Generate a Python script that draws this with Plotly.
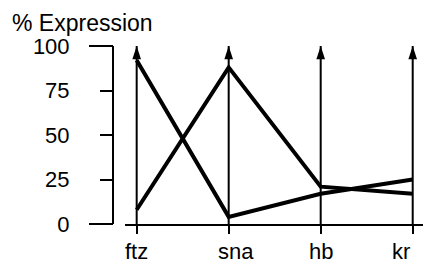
import plotly.graph_objects as go

# ---- data ----
genes = ["ftz", "sna", "hb", "kr"]
series_a = [92, 4, 17, 25]
series_b = [8, 88, 21, 17]
y_ticks = [0, 25, 50, 75, 100]
y_long_ticks = [0, 100]
y_top = 100
title_text = "% Expression"

# ---- style ----
W, H = 423, 262
FONT = "Liberation Sans, Arial, Helvetica, sans-serif"
label_xshift = [0, 7, 0, -12]

idx = list(range(len(genes)))
fig = go.Figure()

# vertical gene axes (arrows)
vx, vy = [], []
for i in idx:
    vx += [i, i, None]
    vy += [0, y_top, None]
fig.add_trace(go.Scatter(x=vx, y=vy, mode="lines",
                         line=dict(color="black", width=2),
                         hoverinfo="skip", showlegend=False))
fig.add_trace(go.Scatter(x=idx, y=[y_top] * len(idx), mode="markers",
                         marker=dict(symbol="arrow", size=14, color="black",
                                     line=dict(width=0)),
                         cliponaxis=False, hoverinfo="skip", showlegend=False))

# expression profiles
for s in (series_a, series_b):
    fig.add_trace(go.Scatter(x=idx, y=s, mode="lines",
                             line=dict(color="black", width=4),
                             hoverinfo="skip", showlegend=False))

annotations = [dict(text=title_text, xref="paper", yref="paper",
                    x=10 / W, y=1.132, xanchor="left", yanchor="middle",
                    showarrow=False, font=dict(family=FONT, size=23, color="black"))]
for i, g in enumerate(genes):
    annotations.append(dict(text=g, x=i, y=0, xref="x", yref="y",
                            xanchor="center", yanchor="middle",
                            xshift=label_xshift[i], yshift=-27,
                            showarrow=False,
                            font=dict(family=FONT, size=22, color="black")))

fig.update_layout(
    width=W, height=H,
    margin=dict(l=0, r=0, t=46, b=38, autoexpand=False),
    paper_bgcolor="white", plot_bgcolor="white",
    showlegend=False,
    annotations=annotations,
    xaxis=dict(domain=[125 / W, 1], range=[-0.127, 3.112], automargin=False,
               tickvals=idx, showticklabels=False,
               ticks="outside", ticklen=8, tickwidth=2, tickcolor="black",
               showline=True, linewidth=2, linecolor="black",
               showgrid=False, zeroline=False, fixedrange=True),
    yaxis=dict(range=[0, y_top], anchor="free", position=113 / W, automargin=False,
               tickvals=y_ticks, ticktext=[str(v) for v in y_ticks],
               ticks="outside", ticklen=12, tickwidth=2, tickcolor="black",
               ticklabelstandoff=26,
               tickfont=dict(family=FONT, size=22, color="black"),
               showline=True, linewidth=2, linecolor="black",
               showgrid=False, zeroline=False, fixedrange=True),
    yaxis2=dict(range=[0, y_top], overlaying="y", anchor="free", position=113 / W,
                automargin=False,
                tickvals=y_long_ticks, showticklabels=False,
                ticks="outside", ticklen=24, tickwidth=2, tickcolor="black",
                showline=False, showgrid=False, zeroline=False, fixedrange=True),
)
# dummy trace to activate yaxis2
fig.add_trace(go.Scatter(x=[None], y=[None], yaxis="y2", showlegend=False, hoverinfo="skip"))

fig.write_html("out.html", config={"displayModeBar": False},
               post_script="document.body.style.margin='0';document.body.style.padding='0';document.body.style.overflow='hidden';")
